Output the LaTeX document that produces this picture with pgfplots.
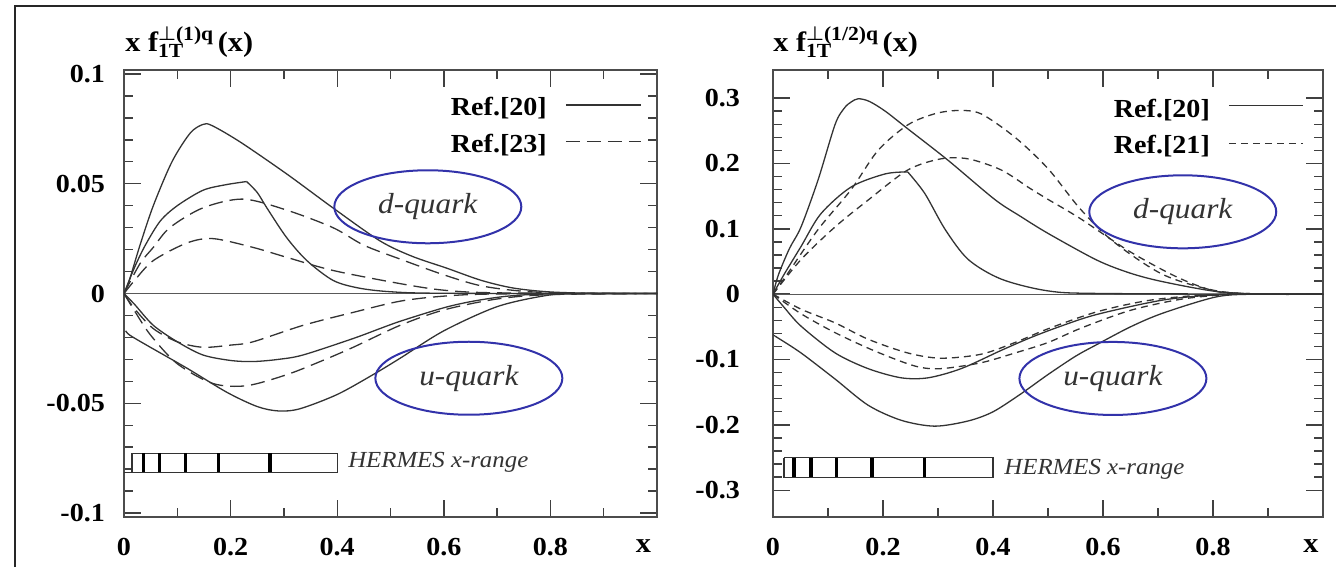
\documentclass[border=0pt]{standalone}
\usepackage{fontspec}
\setmainfont{Liberation Serif}[FakeStretch=1.08]
\usepackage{pgfplots}
\pgfplotsset{compat=1.18}
\usetikzlibrary{shapes.geometric}
\definecolor{ellblue}{RGB}{50,50,170}
\pgfplotsset{
 myaxis/.style={
  scale only axis, height=223.5pt,
  xmin=0, xmax=1,
  axis line style={black!70, line width=0.9pt},
  tick style={black!75, line width=0.7pt},
  major tick length=8.5pt, minor tick length=4.5pt,
  tick align=inside,
  xtick={0,0.2,0.4,0.6,0.8}, xticklabels={0,0.2,0.4,0.6,0.8},
  minor xtick={0.1,0.3,0.5,0.7,0.9},
  ticklabel style={font=\fontsize{13}{15}\selectfont\bfseries},
  xticklabel style={anchor=base, yshift=-19pt},
  yticklabel style={xshift=-6pt},
 },
 sol/.style={black!80, line width=0.65pt, smooth, tension=0.5},
 ldash/.style={black!80, line width=0.65pt, smooth, tension=0.5, dash pattern=on 7pt off 3.5pt},
 sdash/.style={black!80, line width=0.65pt, smooth, tension=0.5, dash pattern=on 3.5pt off 2.5pt},
}
\tikzset{
 ell/.style={draw=ellblue, line width=1pt, ellipse, minimum width=93.5pt, minimum height=36.5pt, inner sep=0pt, font=\fontsize{14.5}{16}\selectfont\itshape, text=black!80},
 leg/.style={anchor=base east, font=\fontsize{13}{15}\selectfont\bfseries, inner sep=0pt},
 herm/.style={anchor=west, font=\fontsize{11.5}{13}\selectfont\itshape, text=black!80, inner sep=0pt},
}
\begin{document}
\begin{tikzpicture}
\useasboundingbox (0,0) rectangle (668pt,283.5pt);
\draw[black!85, line width=1pt] (7.5pt,0pt) -- (7.5pt,280.5pt) -- (668pt,280.5pt);
% ---------------- left panel
\begin{axis}[myaxis, at={(62pt,25pt)}, anchor=south west, width=266.5pt,
  ymin=-0.1018, ymax=0.1018,
  ytick={-0.1,-0.05,0,0.05,0.1}, yticklabels={-0.1,-0.05,0,0.05,0.1},
  minor y tick num=4]
\addplot[black!65, line width=0.6pt] coordinates {(0,0) (1,0)};
% d-quark, Ref.[20]
\addplot[sol] coordinates {(0,0) (0.01,0.006) (0.03,0.022) (0.055,0.040) (0.09,0.060) (0.124,0.073) (0.148,0.077) (0.165,0.0765) (0.218,0.069) (0.305,0.0545) (0.392,0.039) (0.48,0.024) (0.54,0.017) (0.606,0.0115) (0.67,0.006) (0.73,0.0025) (0.8,0.0007) (0.9,0) (1,0)};
\addplot[sol] coordinates {(0,0) (0.02,0.012) (0.04,0.022) (0.068,0.033) (0.1,0.040) (0.148,0.047) (0.19,0.0495) (0.23,0.051)};
\addplot[sol] coordinates {(0.23,0.051) (0.25,0.046) (0.268,0.039) (0.305,0.0255) (0.343,0.015) (0.392,0.006) (0.44,0.0025) (0.5,0.0008) (0.6,0.0001) (1,0)};
% d-quark, Ref.[23]
\addplot[ldash] coordinates {(0,0) (0.03,0.0136) (0.055,0.021) (0.086,0.030) (0.148,0.039) (0.223,0.043) (0.305,0.038) (0.392,0.030) (0.45,0.022) (0.52,0.0155) (0.6,0.0085) (0.67,0.0035) (0.75,0.001) (0.85,0) (1,0)};
\addplot[ldash] coordinates {(0,0) (0.02,0.006) (0.055,0.015) (0.118,0.023) (0.167,0.025) (0.242,0.021) (0.305,0.0165) (0.392,0.0105) (0.518,0.0045) (0.6,0.0015) (0.7,0.0003) (1,0)};
% u-quark, Ref.[20]
\addplot[sol] coordinates {(0,0) (0.02,-0.005) (0.055,-0.0145) (0.1,-0.022) (0.148,-0.028) (0.2,-0.0305) (0.242,-0.031) (0.29,-0.030) (0.336,-0.028) (0.43,-0.0205) (0.48,-0.016) (0.52,-0.0125) (0.6,-0.0065) (0.655,-0.0035) (0.72,-0.0012) (0.8,-0.0002) (1,0)};
\addplot[sol] coordinates {(0.003,-0.017) (0.011,-0.019) (0.043,-0.0236) (0.118,-0.034) (0.193,-0.045) (0.25,-0.0515) (0.29,-0.0535) (0.33,-0.0525) (0.40,-0.046) (0.467,-0.037) (0.518,-0.0295) (0.6,-0.017) (0.7,-0.006) (0.79,-0.001) (0.85,0) (1,0)};
% u-quark, Ref.[23]
\addplot[ldash] coordinates {(0,0) (0.02,-0.007) (0.055,-0.016) (0.1,-0.022) (0.148,-0.0245) (0.2,-0.0235) (0.242,-0.022) (0.336,-0.0145) (0.43,-0.0086) (0.518,-0.0035) (0.6,-0.0012) (0.7,-0.0002) (1,0)};
\addplot[ldash] coordinates {(0,0) (0.02,-0.008) (0.05,-0.019) (0.1,-0.032) (0.167,-0.041) (0.23,-0.042) (0.305,-0.037) (0.368,-0.031) (0.43,-0.0245) (0.518,-0.0145) (0.6,-0.0075) (0.7,-0.0025) (0.8,-0.0005) (1,0)};
% legend keys
\addplot[black!80, line width=0.65pt] coordinates {(0.829,0.0859) (0.970,0.0859)};
\addplot[black!80, line width=0.65pt, dash pattern=on 7pt off 3.5pt] coordinates {(0.829,0.0691) (0.970,0.0691)};
\node[leg] at (axis cs:0.794,0.0809) {Ref.[20]};
\node[leg] at (axis cs:0.794,0.0641) {Ref.[23]};
% HERMES range
\addplot[black!80, line width=0.6pt] coordinates {(0.015,-0.0727) (0.4,-0.0727) (0.4,-0.0814) (0,-0.0814)};
\addplot[black!80, line width=0.6pt] coordinates {(0.015,-0.0727) (0.015,-0.0814)};
\addplot[black, line width=1.6pt] coordinates {(0.037,-0.0727) (0.037,-0.0814)};
\addplot[black, line width=1.6pt] coordinates {(0.066,-0.0727) (0.066,-0.0814)};
\addplot[black, line width=1.6pt] coordinates {(0.115,-0.0727) (0.115,-0.0814)};
\addplot[black, line width=1.6pt] coordinates {(0.178,-0.0727) (0.178,-0.0814)};
\addplot[black, line width=1.6pt] coordinates {(0.274,-0.0727) (0.274,-0.0814)};
\node[herm] at (axis cs:0.42,-0.0768) {HERMES x-range};
\node[ell] at (axis cs:0.570,0.0395) {d-quark};
\node[ell] at (axis cs:0.647,-0.0386) {u-quark};
\end{axis}
\node[anchor=base west, inner sep=0pt, font=\fontsize{14}{16}\selectfont\bfseries] at (62.5pt,257.5pt)
 {x f\raisebox{-0.4ex}{\makebox[0pt][l]{\fontsize{10}{10}\selectfont 1T}}\raisebox{0.9ex}{\fontsize{10}{10}\selectfont\boldmath$\perp$\unboldmath(1)q}\,(x)};
\node[anchor=base, inner sep=0pt, font=\fontsize{14}{16}\selectfont\bfseries] at (321.75pt,7.5pt) {x};
% ---------------- right panel
\begin{axis}[myaxis, at={(386.5pt,25pt)}, anchor=south west, width=275pt,
  ymin=-0.341, ymax=0.343,
  ytick={-0.3,-0.2,-0.1,0,0.1,0.2,0.3}, yticklabels={-0.3,-0.2,-0.1,0,0.1,0.2,0.3},
  minor y tick num=4, yticklabel style={xshift=-7pt}]
\addplot[black!65, line width=0.6pt] coordinates {(0,0) (1,0)};
% d-quark, Ref.[20]
\addplot[sol] coordinates {(0,0) (0.01,0.03) (0.03,0.07) (0.051,0.103) (0.082,0.175) (0.113,0.26) (0.13,0.285) (0.142,0.294) (0.155,0.299) (0.175,0.295) (0.204,0.28) (0.245,0.253) (0.318,0.205) (0.403,0.145) (0.45,0.119) (0.5,0.093) (0.589,0.052) (0.65,0.032) (0.709,0.019) (0.807,0.004) (0.9,0) (1,0)};
\addplot[sol] coordinates {(0,0) (0.02,0.03) (0.051,0.073) (0.087,0.123) (0.142,0.164) (0.204,0.184) (0.245,0.187)};
\addplot[sol] coordinates {(0.245,0.187) (0.276,0.154) (0.313,0.099) (0.355,0.053) (0.415,0.023) (0.5,0.005) (0.6,0.001) (1,0)};
% d-quark, Ref.[21]
\addplot[sdash] coordinates {(0,0) (0.027,0.032) (0.082,0.099) (0.142,0.16) (0.191,0.22) (0.245,0.259) (0.294,0.276) (0.336,0.281) (0.378,0.276) (0.44,0.24) (0.50,0.192) (0.558,0.131) (0.618,0.081) (0.709,0.030) (0.807,0.005) (0.9,0) (1,0)};
\addplot[sdash] coordinates {(0,0) (0.051,0.053) (0.113,0.103) (0.173,0.144) (0.245,0.19) (0.305,0.207) (0.355,0.207) (0.415,0.19) (0.467,0.162) (0.50,0.145) (0.558,0.116) (0.649,0.065) (0.74,0.024) (0.813,0.003) (0.9,0) (1,0)};
% u-quark, Ref.[20]
\addplot[sol] coordinates {(0,0) (0.02,-0.02) (0.051,-0.049) (0.113,-0.09) (0.173,-0.114) (0.233,-0.128) (0.282,-0.128) (0.342,-0.114) (0.415,-0.086) (0.467,-0.067) (0.52,-0.05) (0.589,-0.031) (0.709,-0.009) (0.807,-0.001) (0.9,0) (1,0)};
\addplot[sol] coordinates {(0.005,-0.065) (0.009,-0.067) (0.051,-0.09) (0.113,-0.13) (0.173,-0.17) (0.233,-0.193) (0.294,-0.202) (0.355,-0.194) (0.40,-0.18) (0.45,-0.153) (0.50,-0.123) (0.55,-0.095) (0.589,-0.077) (0.65,-0.05) (0.709,-0.029) (0.807,-0.004) (0.88,0) (1,0)};
% u-quark, Ref.[21]
\addplot[sdash] coordinates {(0,0) (0.051,-0.023) (0.113,-0.044) (0.173,-0.069) (0.245,-0.09) (0.305,-0.098) (0.378,-0.092) (0.44,-0.074) (0.50,-0.053) (0.589,-0.027) (0.68,-0.01) (0.77,-0.002) (0.85,0) (1,0)};
\addplot[sdash] coordinates {(0,0) (0.051,-0.03) (0.113,-0.059) (0.185,-0.087) (0.258,-0.11) (0.305,-0.114) (0.378,-0.105) (0.44,-0.09) (0.50,-0.074) (0.56,-0.052) (0.649,-0.025) (0.74,-0.008) (0.82,-0.001) (0.9,0) (1,0)};
% legend keys
\addplot[black!80, line width=0.65pt] coordinates {(0.829,0.289) (0.964,0.289)};
\addplot[black!80, line width=0.65pt, dash pattern=on 3.5pt off 2.5pt] coordinates {(0.829,0.231) (0.964,0.231)};
\node[leg] at (axis cs:0.795,0.271) {Ref.[20]};
\node[leg] at (axis cs:0.795,0.2146) {Ref.[21]};
% HERMES range
\addplot[black!80, line width=0.6pt] coordinates {(0.02,-0.25) (0.4,-0.25) (0.4,-0.28) (0.02,-0.28) (0.02,-0.25)};
\addplot[black, line width=1.6pt] coordinates {(0.038,-0.25) (0.038,-0.28)};
\addplot[black, line width=1.6pt] coordinates {(0.069,-0.25) (0.069,-0.28)};
\addplot[black, line width=1.6pt] coordinates {(0.116,-0.25) (0.116,-0.28)};
\addplot[black, line width=1.6pt] coordinates {(0.18,-0.25) (0.18,-0.28)};
\addplot[black, line width=1.6pt] coordinates {(0.276,-0.25) (0.276,-0.28)};
\node[herm] at (axis cs:0.42,-0.268) {HERMES x-range};
\node[ell] at (axis cs:0.745,0.126) {d-quark};
\node[ell] at (axis cs:0.618,-0.129) {u-quark};
\end{axis}
\node[anchor=base west, inner sep=0pt, font=\fontsize{14}{16}\selectfont\bfseries] at (386.5pt,257.5pt)
 {x f\raisebox{-0.4ex}{\makebox[0pt][l]{\fontsize{10}{10}\selectfont 1T}}\raisebox{0.9ex}{\fontsize{10}{10}\selectfont\boldmath$\perp$\unboldmath(1/2)q}\,(x)};
\node[anchor=base, inner sep=0pt, font=\fontsize{14}{16}\selectfont\bfseries] at (655.5pt,7.5pt) {x};
\end{tikzpicture}
\end{document}
